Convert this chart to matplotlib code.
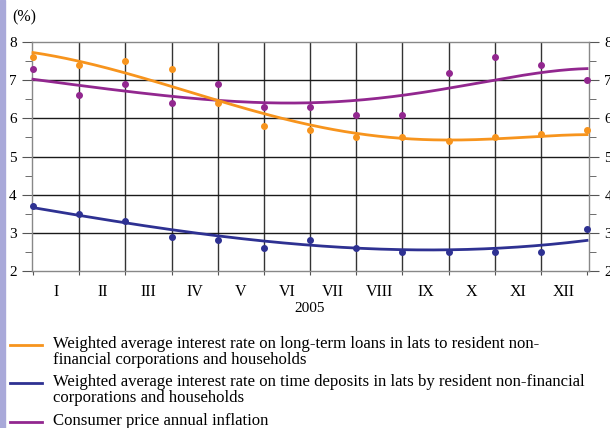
import numpy as np
import matplotlib.pyplot as plt
from matplotlib.lines import Line2D
from matplotlib.patches import Rectangle

# 13 observations: Dec 2004 .. Dec 2005 (x = 0..12)
loans = [7.6, 7.4, 7.5, 7.3, 6.4, 5.8, 5.7, 5.5, 5.5, 5.4, 5.5, 5.6, 5.7]
deposits = [3.7, 3.5, 3.3, 2.9, 2.8, 2.6, 2.8, 2.6, 2.5, 2.5, 2.5, 2.5, 3.1]
inflation = [7.3, 6.6, 6.9, 6.4, 6.9, 6.3, 6.3, 6.1, 6.1, 7.2, 7.6, 7.4, 7.0]

# trend lines, same 13 positions
loans_trend = [7.73, 7.48, 7.19, 6.85, 6.47, 6.12, 5.82, 5.60, 5.48, 5.44, 5.47, 5.51, 5.58]
deposits_trend = [3.66, 3.46, 3.26, 3.08, 2.93, 2.78, 2.67, 2.61, 2.56, 2.55, 2.59, 2.68, 2.80]
inflation_trend = [7.03, 6.85, 6.71, 6.59, 6.48, 6.41, 6.39, 6.46, 6.61, 6.81, 7.00, 7.18, 7.31]

months = ['I', 'II', 'III', 'IV', 'V', 'VI', 'VII', 'VIII', 'IX', 'X', 'XI', 'XII']
labels = [
    'Weighted average interest rate on long-term loans in lats to resident non-\nfinancial corporations and households',
    'Weighted average interest rate on time deposits in lats by resident non-financial\ncorporations and households',
    'Consumer price annual inflation',
]
colors = ['#F7941D', '#2E3192', '#92278F']

plt.rcParams['font.family'] = ['Liberation Serif', 'DejaVu Serif']

fig = plt.figure(figsize=(6.1, 4.28), dpi=100)
fig.patches.append(Rectangle((0, 0), 5 / 610, 1, transform=fig.transFigure,
                             color='#A9A9D9', zorder=0))
ax = fig.add_axes([32 / 610, 1 - 271 / 428, 557 / 610, 229 / 428])

x = np.arange(len(loans))
xs = np.linspace(0, 12, 200)
for series, trend, c, z in [(inflation, inflation_trend, colors[2], 3),
                            (loans, loans_trend, colors[0], 4),
                            (deposits, deposits_trend, colors[1], 5)]:
    # smooth the read trend points so the curve has no kinks
    coef = np.polyfit(x, trend, 5)
    ax.plot(xs, np.polyval(coef, xs), color=c, lw=2, zorder=z, clip_on=False)
    ax.plot(x, series, 'o', color=c, ms=4, zorder=z, clip_on=False)

ax.set_xlim(-0.022, 12.043)
ax.set_ylim(2, 8)

# month labels between boundaries, boundary ticks
ax.set_xticks(np.arange(13))
ax.set_xticklabels([])
ax.set_xticks(np.arange(12) + 0.5, minor=True)
ax.set_xticklabels(months, minor=True, fontsize=11.5)
ax.tick_params(axis='x', which='major', direction='out', length=3, color='#555')
ax.tick_params(axis='x', which='minor', length=0, pad=9)
for b in range(1, 12):
    ax.axvline(b, color='#333333', lw=1, zorder=1)

ax.set_yticks(range(2, 9))
ax.set_yticks(np.arange(2.5, 8, 1), minor=True)
ax.tick_params(axis='y', which='both', left=True, right=True, labelleft=True,
               labelright=True, direction='out', color='#555', labelsize=11)
ax.tick_params(axis='y', which='major', length=7, pad=4)
ax.tick_params(axis='y', which='minor', length=5)
for v in range(3, 8):
    ax.axhline(v, color='#1a1a1a', lw=1, zorder=1)

for s in ax.spines.values():
    s.set_color('#888888')
    s.set_linewidth(1)

fig.text(12 / 610, 1 - 17 / 428, '(%)', fontsize=11.5, va='center', ha='left')
fig.text(310 / 610, 1 - 308 / 428, '2005', fontsize=11, va='center', ha='center')

# legend drawn by hand under the plot
ys = [345, 383, 422]
for yy, lab, c in zip(ys, labels, colors):
    fig.add_artist(Line2D([10 / 610, 42 / 610], [1 - yy / 428] * 2, color=c, lw=2))
    fig.text(53 / 610, 1 - (yy - 9) / 428, lab, fontsize=12.1, va='top', ha='left',
             linespacing=1.0)

fig.savefig('out.png', dpi=100)
